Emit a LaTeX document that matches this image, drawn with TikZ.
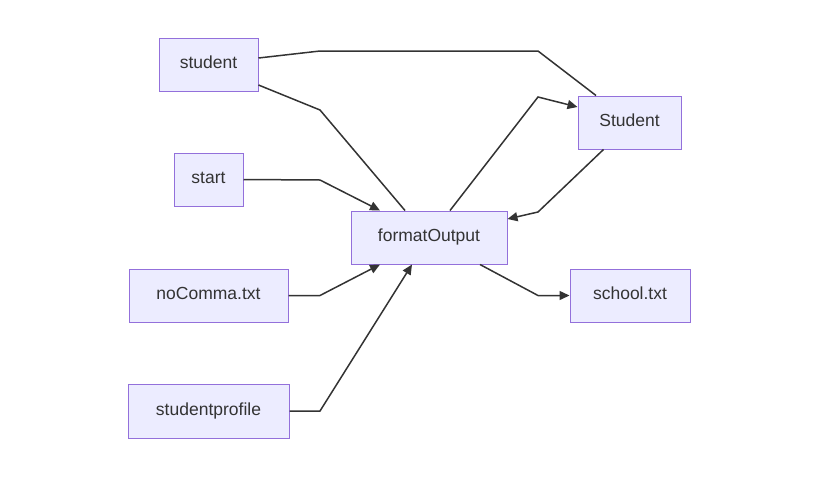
\documentclass[tikz,border=0pt]{standalone}
\usepackage{fontspec}
\setmainfont{Liberation Sans}
\usetikzlibrary{arrows.meta}
\definecolor{nodefill}{HTML}{ECECFF}
\definecolor{nodeline}{HTML}{9370DB}
\definecolor{edgecol}{HTML}{333333}
\begin{document}
\begin{tikzpicture}[x=1pt,y=-1pt,
  box/.style={draw=nodeline,fill=nodefill,line width=1pt,minimum height=53pt,inner sep=0pt,text height=12.5pt,text depth=4pt,font=\fontsize{17.5}{20}\selectfont,text=edgecol},
  link/.style={draw=edgecol,line width=1.5pt},
  arr/.style={link,-{Triangle[length=10pt,width=9pt]}}]
\useasboundingbox (0,0) rectangle (820,480);
\node[box,minimum width=99pt] (student) at (208.5,64.5) {student};
\node[box,minimum width=69pt] (start) at (208.5,179.5) {start};
\node[box,minimum width=159pt] (nocomma) at (208.5,295.5) {noComma.txt};
\node[box,minimum width=161pt,minimum height=54pt] (profile) at (208.5,411) {studentprofile};
\node[box,minimum width=156pt] (fo) at (429,237.5) {formatOutput};
\node[box,minimum width=103pt] (Stu) at (629.5,122.5) {Student};
\node[box,minimum width=120pt] (school) at (630,295.5) {school.txt};

\draw[link] ([yshift=6.5pt]student.east) -- (320,51) -- (538,51) -- ([xshift=-33.5pt]Stu.north);
\draw[link] ([yshift=-20.5pt]student.east) -- (320,110) -- ([xshift=-24pt]fo.north);
\draw[arr] (start.east) -- (320,180) -- ([xshift=-49pt]fo.north);
\draw[arr] (nocomma.east) -- (320,295.5) -- ([xshift=-49pt]fo.south);
\draw[arr] (profile.east) -- (320,411) -- ([xshift=-17pt]fo.south);
\draw[arr] ([xshift=21pt]fo.north) -- (538,97) -- ([yshift=15.5pt]Stu.west);
\draw[arr] ([xshift=-26pt]Stu.south) -- (538,212) -- ([yshift=18.5pt]fo.east);
\draw[arr] ([xshift=51pt]fo.south) -- (538,295.5) -- (school.west);
\end{tikzpicture}
\end{document}
